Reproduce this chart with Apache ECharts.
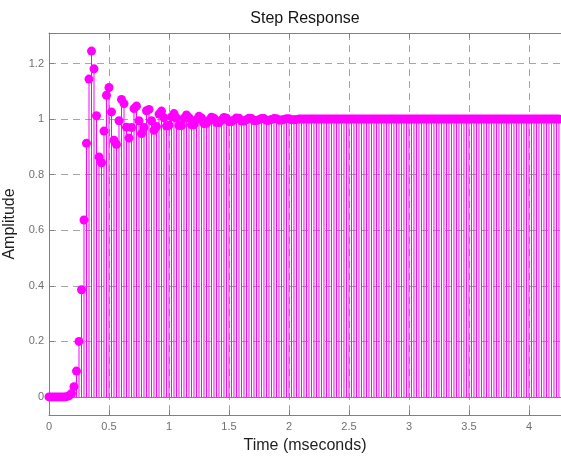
<!DOCTYPE html>
<html><head><meta charset="utf-8">
<script src="https://cdn.jsdelivr.net/npm/echarts@6/dist/echarts.min.js"></script>
<style>html,body{margin:0;padding:0;background:#fff}#c{width:561px;height:457px}</style>
</head><body><div id="c"></div>
<script>
// Discrete step response sampled at 48 kHz (one sample every 1/48 ms)
const sampleRateKHz = 48;
const amplitude = [
  0, 0, 0, 0, 0, 0, 0, 0.001, 0.004, 0.012,
  0.037, 0.093, 0.200, 0.386, 0.637, 0.913, 1.144, 1.245, 1.181, 1.012,
  0.864, 0.843, 0.957, 1.086, 1.114, 1.026, 0.924, 0.909, 0.994, 1.071,
  1.056, 0.971, 0.932, 0.970, 1.038, 1.047, 0.994, 0.948, 0.970, 1.030,
  1.035, 0.994, 0.960, 0.973, 1.018, 1.029, 1.005, 0.975, 0.978, 1.008,
  1.020, 1.004, 0.977, 0.977, 1.003, 1.015, 1.005, 0.980, 0.980, 0.998,
  1.010, 1.004, 0.984, 0.985, 0.996, 1.007, 1.003, 0.988, 0.988, 0.997,
  1.006, 1.003, 0.991, 0.991, 0.997, 1.004, 1.003, 0.993, 0.993, 0.998,
  1.003, 1.002, 0.995, 0.995, 0.998, 1.002, 1.002, 0.996, 0.996, 0.999,
  1.002, 1.001, 0.997, 0.997, 0.999, 1.001, 1.001, 0.998, 0.998, 0.999,
  1, 1, 1, 1, 1, 1, 1, 1, 1, 1, 1, 1, 1, 1, 1,
  1, 1, 1, 1, 1, 1, 1, 1, 1, 1, 1, 1, 1, 1, 1,
  1, 1, 1, 1, 1, 1, 1, 1, 1, 1, 1, 1, 1, 1, 1,
  1, 1, 1, 1, 1, 1, 1, 1, 1, 1, 1, 1, 1, 1, 1,
  1, 1, 1, 1, 1, 1, 1, 1, 1, 1, 1, 1, 1, 1, 1,
  1, 1, 1, 1, 1, 1, 1, 1, 1, 1, 1, 1, 1, 1, 1,
  1, 1, 1, 1, 1, 1, 1, 1, 1, 1, 1, 1, 1, 1, 1
];
const xTicks = [0, 0.5, 1, 1.5, 2, 2.5, 3, 3.5, 4];
const yTicks = [0, 0.2, 0.4, 0.6, 0.8, 1, 1.2];
const xRange = [0, 4.267];
const yRange = [-0.065, 1.31];

const times = amplitude.map((_, k) => k / sampleRateKHz);
const points = times.map((t, i) => [t, amplitude[i]]);

const axisColor = '#808080';
const gridColor = '#a6a6a6';
const labelColor = '#707070';
const font = 'Liberation Sans, Arial, sans-serif';

const chart = echarts.init(document.getElementById('c'), null, {renderer: 'canvas'});
chart.setOption({
  animation: false,
  backgroundColor: '#fff',
  grid: {left: 49, right: 0, top: 33, bottom: 42, containLabel: false, outerBoundsMode: 'none'},
  graphic: [{
    type: 'text', x: 305, y: 19,
    style: {text: 'Step Response', fill: '#141414', font: '16px ' + font,
            textAlign: 'center', textVerticalAlign: 'middle'}
  }],
  xAxis: [{
    type: 'value', min: xRange[0], max: xRange[1], interval: 0.5,
    name: 'Time (mseconds)', nameLocation: 'middle', nameGap: 23,
    nameTextStyle: {color: '#1f1f1f', fontSize: 16, fontFamily: font},
    axisLine: {show: true, onZero: false, lineStyle: {color: axisColor, width: 1}},
    axisTick: {show: true, inside: true, length: 5, customValues: xTicks, lineStyle: {color: axisColor}},
    axisLabel: {show: true, customValues: xTicks, color: labelColor, fontSize: 11, fontFamily: font, margin: 6},
    splitLine: {show: true, lineStyle: {color: gridColor, type: [7, 5], width: 1}}
  }, {
    type: 'value', position: 'top', min: xRange[0], max: xRange[1], interval: 0.5,
    axisLine: {show: true, onZero: false, lineStyle: {color: axisColor, width: 1}},
    axisTick: {show: true, inside: true, length: 5, customValues: xTicks, lineStyle: {color: axisColor}},
    axisLabel: {show: false},
    splitLine: {show: false}
  }],
  yAxis: [{
    type: 'value', min: yRange[0], max: yRange[1],
    name: 'Amplitude', nameLocation: 'middle', nameGap: 28,
    nameTextStyle: {color: '#1f1f1f', fontSize: 16, fontFamily: font},
    axisLine: {show: true, onZero: false, lineStyle: {color: axisColor, width: 1}},
    axisTick: {show: true, inside: true, length: 5, customValues: yTicks, lineStyle: {color: axisColor}},
    axisLabel: {show: true, customValues: yTicks, color: labelColor, fontSize: 11, fontFamily: font, margin: 5},
    splitLine: {show: true, lineStyle: {color: gridColor, type: [7, 5], width: 1}}
  }],
  series: [{
    type: 'bar', xAxisIndex: 0, yAxisIndex: 0,
    data: points, barWidth: 1, silent: true,
    itemStyle: {color: '#ff00ff'}, z: 2
  }, {
    type: 'scatter', xAxisIndex: 0, yAxisIndex: 0,
    data: points, symbol: 'circle', symbolSize: 9, silent: true,
    itemStyle: {color: '#ff00ff', opacity: 1}, z: 3,
    markLine: {
      silent: true, symbol: 'none', label: {show: false},
      lineStyle: {color: axisColor, type: 'solid', width: 1},
      data: [{yAxis: 0}], z: 1
    }
  }]
});
</script>
</body></html>
